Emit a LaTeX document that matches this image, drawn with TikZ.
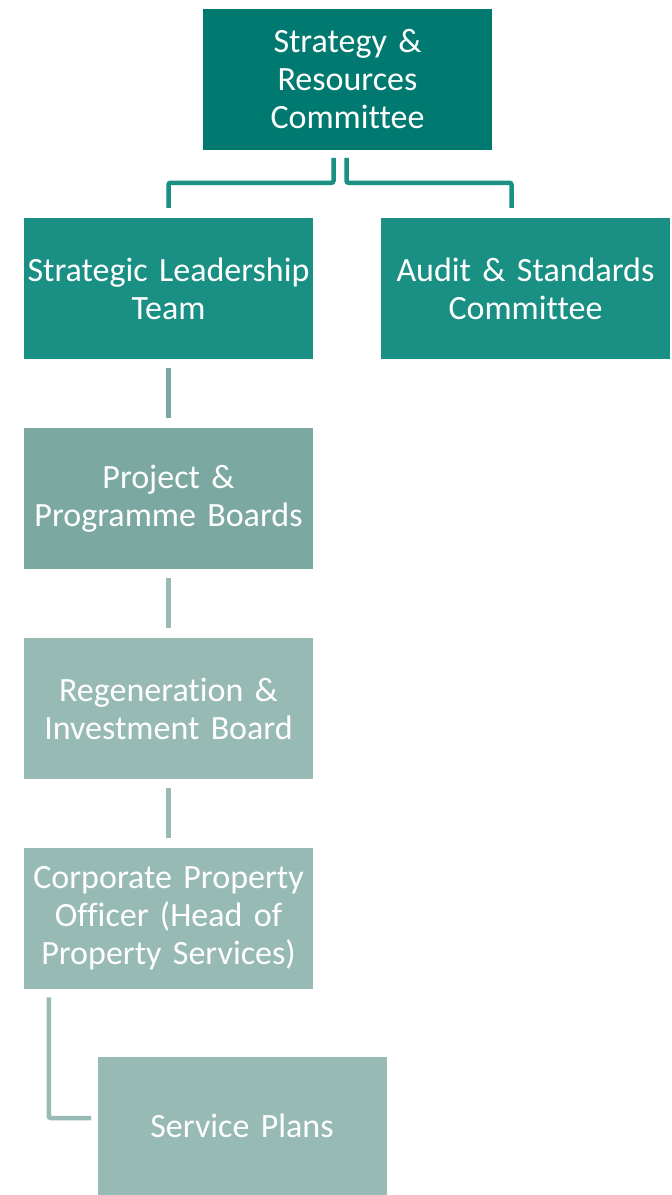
\documentclass[tikz,border=0pt]{standalone}
\usepackage{fontspec}
\setmainfont[Ligatures=NoCommon, WordSpace=0.7]{Carlito}
\usetikzlibrary{positioning}

\definecolor{tealdark}{HTML}{007A70}
\definecolor{tealmid}{HTML}{1A8F83}
\definecolor{tealgrey}{HTML}{7BA8A0}
\definecolor{teallight}{HTML}{97BAB4}

\begin{document}
\begin{tikzpicture}[
        x = 1pt, y = -1pt, % pixel-like units, y downwards
        line width = 4.5pt, % connector thickness
        rounded corners = 2pt
        ]

        \tikzset{box/.style={
            rectangle,
            rounded corners = 0pt,
            minimum width = 289pt,
            minimum height = 141pt,
            text width = 287pt,
            align = center,
            text = white,
            font = \fontsize{34}{38}\selectfont,
            inner sep = 0pt
        }}

        \useasboundingbox (0,0) rectangle (672,1195);

        \node[box, fill=tealdark] (src) at (347.5,79) {Strategy \&\\ Resources\\ Committee};
        \node[box, fill=tealmid] (slt) at (168.5,288.5) {Strategic Leadership\\ Team};
        \node[box, fill=tealmid] (audit) at (525.5,288.5) {Audit \& Standards\\ Committee};
        \node[box, fill=tealgrey] (ppb) at (168.5,498.5) {Project \&\\ Programme Boards};
        \node[box, fill=teallight] (rib) at (168.5,708.5) {Regeneration \&\\ Investment Board};
        \node[box, fill=teallight] (cpo) at (168.5,918.5) {Corporate Property\\ Officer (Head of\\ Property Services)};
        \node[box, fill=teallight, minimum height=138pt] (sp) at (242,1126) {Service Plans};

        \coordinate (spin) at (91,1118);

        % top split
        \draw[tealmid] ([xshift=-14pt, yshift=-6pt]src.south) -- ++(0,25) -| ([yshift=8pt]slt.north);
        \draw[tealmid] ([xshift=-1pt, yshift=-6pt]src.south) -- ++(0,25) -| ([xshift=-14pt, yshift=8pt]audit.north);

        % chain down the left column
        \draw[tealgrey] ([yshift=-7pt]slt.south) -- ([yshift=8pt]ppb.north);
        \draw[teallight] ([yshift=-7pt]ppb.south) -- ([yshift=8pt]rib.north);
        \draw[teallight] ([yshift=-7pt]rib.south) -- ([yshift=8pt]cpo.north);
        \draw[teallight] ([xshift=27pt, yshift=-6pt]cpo.south west) |- (spin);

      \end{tikzpicture}
\end{document}
